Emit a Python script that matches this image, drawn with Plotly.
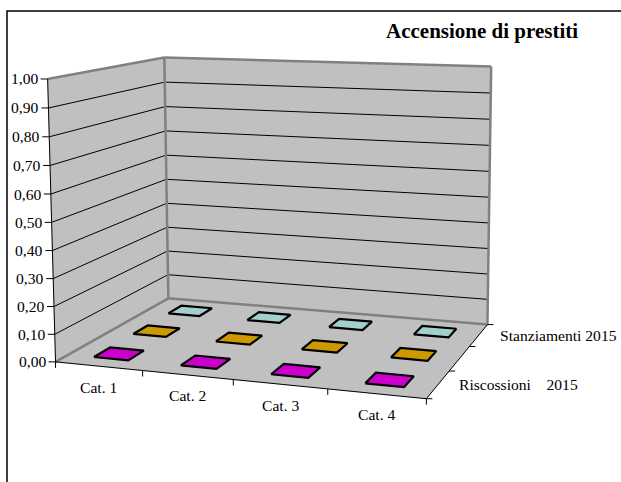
import numpy as np
import plotly.graph_objects as go

# ---- data -------------------------------------------------------------
categories = ["Cat. 1", "Cat. 2", "Cat. 3", "Cat. 4"]
series_names = ["Riscossioni    2015", "Accertamenti 2015", "Stanziamenti 2015"]
riscossioni_2015 = [0.0, 0.0, 0.0, 0.0]
accertamenti_2015 = [0.0, 0.0, 0.0, 0.0]
stanziamenti_2015 = [0.0, 0.0, 0.0, 0.0]
value_ticks = [0.0, 0.1, 0.2, 0.3, 0.4, 0.5, 0.6, 0.7, 0.8, 0.9, 1.0]
title_text = "Accensione di prestiti"

series_values = [riscossioni_2015, accertamenti_2015, stanziamenti_2015]
series_colors = ["#CC00CC", "#CC9900", "#A3CFCF"]

# ---- geometry / style --------------------------------------------------
W, H = 621, 482
FONT = "Liberation Serif, Times New Roman, serif"
WALL = "#C0C0C0"
EDGE = "#808080"
BAR_W = 0.40   # bar width as a fraction of a category cell
BAR_D = 0.40   # bar depth as a fraction of a series row

n_cat = len(categories)
n_ser = len(series_names)
zmax = value_ticks[-1]

# Screen placement of the plot box corners (world -> pixel), used to solve
# a pinhole camera so every element is projected from its data coordinates.
box_anchors = [
    ((0, 0, 0), (57, 361)),
    ((0, 0, zmax), (47, 78)),
    ((n_cat, 0, 0), (426, 398)),
    ((n_cat, n_ser, 0), (488, 324)),
    ((0, n_ser, 0), (167, 298)),
    ((0, n_ser, zmax), (165, 58)),
    ((n_cat, n_ser, zmax), (491, 67)),
    ((1, 0, 0), (143, 372)),
    ((2, 0, 0), (233, 380)),
    ((3, 0, 0), (327, 390)),
    ((n_cat, 1, 0), (449, 370)),
    ((n_cat, 2, 0), (470, 347)),
]


def solve_camera(pairs):
    rows = []
    for (X, Y, Z), (u, v) in pairs:
        p = [X, Y, Z, 1.0]
        rows.append(p + [0, 0, 0, 0] + [-u * q for q in p])
        rows.append([0, 0, 0, 0] + p + [-v * q for q in p])
    _, _, vt = np.linalg.svd(np.array(rows, dtype=float))
    return vt[-1].reshape(3, 4)


CAM = solve_camera(box_anchors)


def proj(X, Y, Z):
    h = CAM @ np.array([X, Y, Z, 1.0])
    return h[0] / h[2], h[1] / h[2]


fig = go.Figure()


def polygon(pts, fill, line_color, line_width):
    xy = [proj(*p) for p in pts]
    xs = [a for a, _ in xy] + [xy[0][0]]
    ys = [b for _, b in xy] + [xy[0][1]]
    fig.add_trace(go.Scatter(
        x=xs, y=ys, mode="lines", fill="toself", fillcolor=fill,
        line=dict(color=line_color, width=line_width),
        hoverinfo="skip", showlegend=False))


def segments(pairs2d, color, width):
    xs, ys = [], []
    for (a, b) in pairs2d:
        xs += [a[0], b[0], None]
        ys += [a[1], b[1], None]
    fig.add_trace(go.Scatter(
        x=xs, y=ys, mode="lines", line=dict(color=color, width=width),
        hoverinfo="skip", showlegend=False))


# walls and floor
polygon([(0, 0, 0), (0, n_ser, 0), (0, n_ser, zmax), (0, 0, zmax)], WALL, WALL, 0.5)
polygon([(0, n_ser, 0), (n_cat, n_ser, 0), (n_cat, n_ser, zmax), (0, n_ser, zmax)], WALL, WALL, 0.5)
polygon([(0, 0, 0), (n_cat, 0, 0), (n_cat, n_ser, 0), (0, n_ser, 0)], WALL, WALL, 0.5)

# gridlines on the two walls
grid = []
for z in value_ticks[1:-1]:
    grid.append((proj(0, 0, z), proj(0, n_ser, z)))
    grid.append((proj(0, n_ser, z), proj(n_cat, n_ser, z)))
segments(grid, "#000000", 1)

# wall edges
edges = [
    (proj(0, 0, zmax), proj(0, n_ser, zmax)),
    (proj(0, n_ser, zmax), proj(n_cat, n_ser, zmax)),
    (proj(0, n_ser, 0), proj(0, n_ser, zmax)),
    (proj(n_cat, n_ser, 0), proj(n_cat, n_ser, zmax)),
    (proj(0, 0, 0), proj(0, n_ser, 0)),
    (proj(0, n_ser, 0), proj(n_cat, n_ser, 0)),
]
segments(edges, EDGE, 2.5)

# axes lines and tick marks
axes = [
    (proj(0, 0, 0), proj(0, 0, zmax)),
    (proj(0, 0, 0), proj(n_cat, 0, 0)),
    (proj(n_cat, 0, 0), proj(n_cat, n_ser, 0)),
]
TICK = 7
for z in value_ticks:
    u, v = proj(0, 0, z)
    axes.append(((u - TICK, v), (u, v)))
for k in range(n_cat + 1):
    u, v = proj(k, 0, 0)
    axes.append(((u, v), (u, v + 6)))
for j in range(n_ser + 1):
    u, v = proj(n_cat, j, 0)
    axes.append(((u, v), (u + 6, v)))
segments(axes, "#000000", 1)

# bars (drawn back to front)
for s in reversed(range(n_ser)):
    for c in range(n_cat):
        val = series_values[s][c]
        x0, x1 = c + 0.5 - BAR_W / 2, c + 0.5 + BAR_W / 2
        y0, y1 = s + 0.5 - BAR_D / 2, s + 0.5 + BAR_D / 2
        col = series_colors[s]
        if val > 0:
            polygon([(x0, y0, 0), (x1, y0, 0), (x1, y0, val), (x0, y0, val)], col, "#000000", 2)
            polygon([(x1, y0, 0), (x1, y1, 0), (x1, y1, val), (x1, y0, val)], col, "#000000", 2)
        polygon([(x0, y0, val), (x1, y0, val), (x1, y1, val), (x0, y1, val)], col, "#000000", 2.2)

annotations = []
label_font = dict(family=FONT, size=15.6, color="#000000")

for z in value_ticks:
    u, v = proj(0, 0, z)
    annotations.append(dict(
        x=u - TICK - 1, y=v, text=f"{z:.2f}".replace(".", ","), showarrow=False,
        xanchor="right", yanchor="middle", font=label_font))

for k, name in enumerate(categories):
    u, v = proj(k + 0.5, 0, 0)
    annotations.append(dict(
        x=u, y=v + 21, text=name, showarrow=False,
        xanchor="center", yanchor="middle", font=label_font))

for j, name in enumerate(series_names):
    if j % 2:
        continue
    u, v = proj(n_cat, j + 0.5, 0)
    annotations.append(dict(
        x=u + 19, y=v, text=name.replace(" ", "\u00a0"), showarrow=False,
        xanchor="left", yanchor="middle", font=label_font))

annotations.append(dict(
    x=482, y=31, text=f"<b>{title_text}</b>", showarrow=False,
    xanchor="center", yanchor="middle",
    font=dict(family=FONT, size=21, color="#000000")))

fig.update_layout(
    width=W, height=H, autosize=False,
    margin=dict(l=0, r=0, t=0, b=0, pad=0),
    paper_bgcolor="#FFFFFF", plot_bgcolor="#FFFFFF",
    xaxis=dict(range=[0, W], visible=False, fixedrange=True),
    yaxis=dict(range=[H, 0], visible=False, fixedrange=True),
    showlegend=False,
    annotations=annotations,
    shapes=[dict(type="rect", xref="x", yref="y", x0=7, y0=11, x1=W + 20, y1=H + 20,
                 line=dict(color="#000000", width=1.5), fillcolor="rgba(0,0,0,0)")],
)

fig.write_html("out.html")
